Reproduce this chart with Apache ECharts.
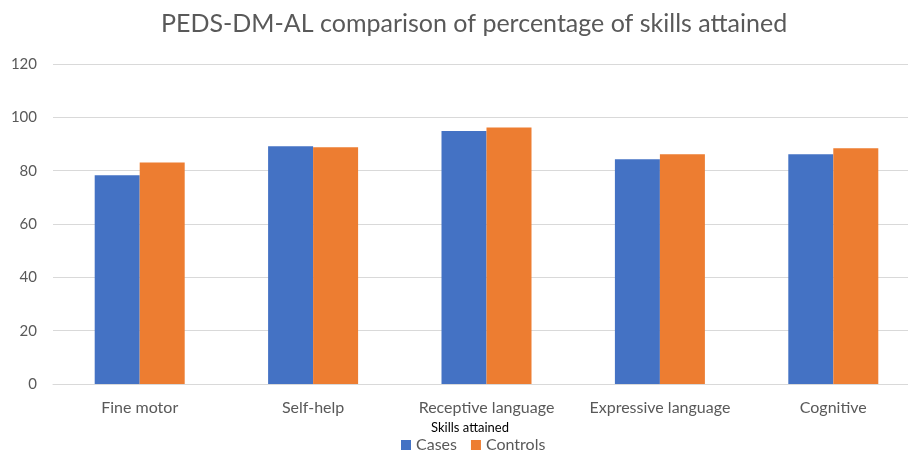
<!DOCTYPE html>
<html>
<head>
<meta charset="utf-8">
<script src="https://cdn.jsdelivr.net/npm/echarts@6/dist/echarts.min.js"></script>
<style>html,body{margin:0;padding:0;background:#fff}#c{width:908px;height:453px}</style>
</head>
<body>
<div id="c"></div>
<script>
const titleText = 'PEDS-DM-AL comparison of percentage of skills attained';
const categories = ['Fine motor', 'Self-help', 'Receptive language', 'Expressive language', 'Cognitive'];
const cases = [78.3, 89.2, 94.9, 84.3, 86.2];
const controls = [83.1, 88.8, 96.2, 86.2, 88.4];
const yTicks = [0, 20, 40, 60, 80, 100, 120];
const xAxisName = 'Skills attained';

const FONT = 'Lato, "Open Sans", sans-serif';
const chart = echarts.init(document.getElementById('c'));
chart.setOption({
  backgroundColor: '#fff',
  animation: false,
  title: {
    text: titleText,
    left: 156,
    top: 6,
    textStyle: { fontFamily: FONT, fontSize: 25, fontWeight: 'normal', color: '#595959' }
  },
  legend: {
    data: ['Cases', 'Controls'],
    left: 396,
    top: 435,
    padding: [2, 5, 2, 5],
    itemWidth: 10,
    itemHeight: 10,
    itemGap: 14,
    icon: 'rect',
    textStyle: { fontFamily: FONT, fontSize: 16, color: '#595959' }
  },
  grid: { left: 53, right: -12, top: 64, bottom: 69, containLabel: false, outerBoundsMode: 'none' },
  xAxis: {
    type: 'category',
    data: categories,
    name: xAxisName,
    nameLocation: 'middle',
    nameGap: 37,
    nameTextStyle: { fontFamily: FONT, fontSize: 13, color: '#000', padding: [0, 33, 0, 0] },
    axisLine: { lineStyle: { color: '#d9d9d9', width: 1 } },
    axisTick: { show: false },
    axisLabel: { fontFamily: FONT, fontSize: 16, color: '#595959', margin: 16, interval: 0 }
  },
  yAxis: {
    type: 'value',
    min: yTicks[0],
    max: yTicks[yTicks.length - 1],
    interval: 20,
    axisLine: { show: false },
    axisTick: { show: false },
    splitLine: { lineStyle: { color: '#d9d9d9', width: 1 } },
    axisLabel: { fontFamily: FONT, fontSize: 15, color: '#595959', margin: 16 }
  },
  series: [
    { name: 'Cases', type: 'bar', data: cases, barWidth: 45, barGap: '0%', itemStyle: { color: '#4472C4' } },
    { name: 'Controls', type: 'bar', data: controls, barWidth: 45, barGap: '0%', itemStyle: { color: '#ED7D31' } }
  ]
});
</script>
</body>
</html>
